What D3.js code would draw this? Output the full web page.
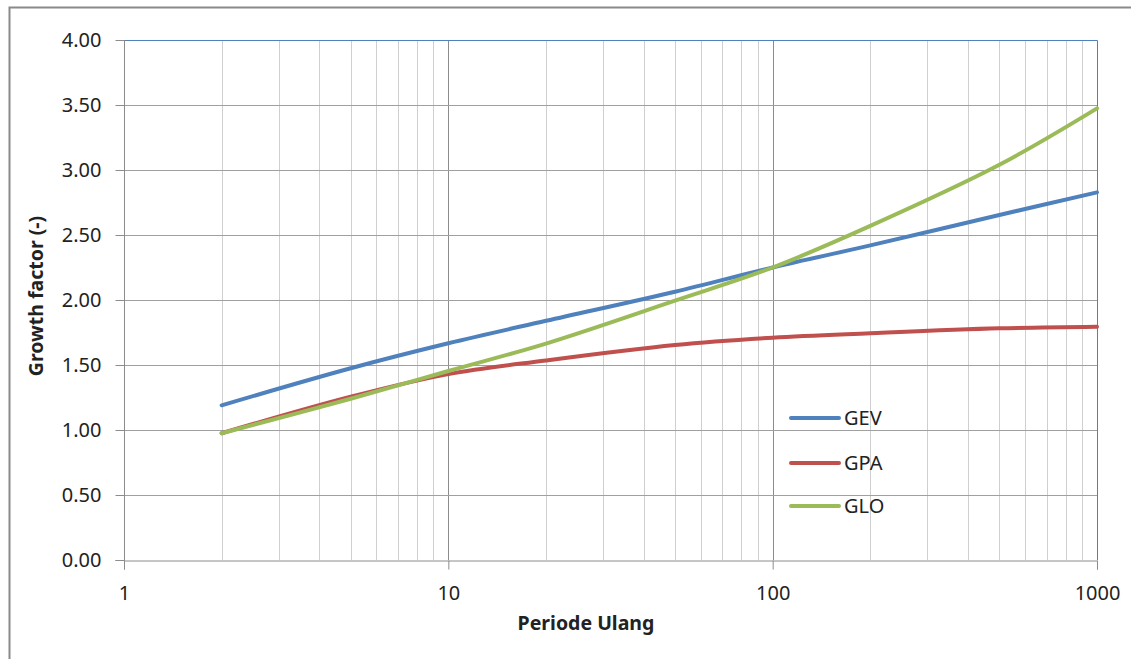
<!DOCTYPE html>
<html>
<head>
<meta charset="utf-8">
<script src="https://cdn.jsdelivr.net/npm/d3@7"></script>
<style>
  body { margin: 0; background: #fff; }
  text { font-family: "Noto Sans", "Open Sans", sans-serif; fill: #222; }
</style>
</head>
<body>
<svg id="chart" width="1131" height="659"></svg>
<script>
// return periods (years)
const periods = [2, 5, 10, 20, 50, 100, 200, 500, 1000];
// growth factors
const gev = [1.19, 1.475, 1.667, 1.84, 2.064, 2.25, 2.42, 2.654, 2.828];
const gpa = [0.975, 1.256, 1.43, 1.535, 1.654, 1.71, 1.744, 1.782, 1.795];
const glo = [0.975, 1.24, 1.454, 1.665, 1.995, 2.25, 2.57, 3.04, 3.474];

const seriesNames = ["GEV", "GPA", "GLO"];
const seriesColors = ["#4F81BD", "#C0504D", "#9BBB59"];
const yTicks = [0, 0.5, 1, 1.5, 2, 2.5, 3, 3.5, 4];
const xMajor = [1, 10, 100, 1000];

const svg = d3.select("#chart");

// outer chart frame
svg.append("rect")
    .attr("x", 9.5).attr("y", 7.5)
    .attr("width", 1200).attr("height", 700)
    .attr("fill", "none")
    .attr("stroke", "#8a8a8a")
    .attr("stroke-width", 2);

const c_left = 124, c_right = 1097, c_top = 40, c_bottom = 560;

const x = d3.scaleLog().domain([1, 1000]).range([c_left, c_right]);
const y = d3.scaleLinear().domain([0, 4]).range([c_bottom, c_top]);

// minor vertical grid
var minor = [];
for (let d = 1; d < 1000; d *= 10) {
    for (let k = 2; k <= 9; k++) minor.push(d * k);
}
svg.append("g").selectAll("line")
    .data(minor).enter().append("line")
    .attr("x1", d => Math.round(x(d)) + 0.5).attr("x2", d => Math.round(x(d)) + 0.5)
    .attr("y1", c_top).attr("y2", c_bottom)
    .attr("stroke", "#cfcfcf").attr("stroke-width", 1);

// major vertical grid
svg.append("g").selectAll("line")
    .data(xMajor.slice(1, 3)).enter().append("line")
    .attr("x1", d => Math.round(x(d)) + 0.5).attr("x2", d => Math.round(x(d)) + 0.5)
    .attr("y1", c_top).attr("y2", c_bottom)
    .attr("stroke", "#8c8c8c").attr("stroke-width", 1);

// horizontal grid
svg.append("g").selectAll("line")
    .data(yTicks.slice(1)).enter().append("line")
    .attr("x1", c_left).attr("x2", c_right)
    .attr("y1", d => Math.round(y(d)) + 0.5).attr("y2", d => Math.round(y(d)) + 0.5)
    .attr("stroke", "#a0a0a0").attr("stroke-width", 1);

// plot area border (blue, top and right)
svg.append("path")
    .attr("d", "M" + c_left + "," + (c_top + 0.5) + "H" + (c_right + 0.5) + "V" + c_bottom)
    .attr("fill", "none")
    .attr("stroke", "#4F81BD")
    .attr("stroke-width", 1);

// axes
const yAxis = d3.axisLeft(y).tickValues(yTicks).tickFormat(d3.format(".2f")).tickSize(9).tickPadding(14);
const gy = svg.append("g").attr("transform", "translate(" + (c_left + 0.5) + ",0)").call(yAxis);
const xAxis = d3.axisBottom(x).tickValues(xMajor).tickFormat(d3.format("d")).tickSize(9).tickPadding(16);
const gx = svg.append("g").attr("transform", "translate(0," + (c_bottom + 0.5) + ")").call(xAxis);

[gy, gx].forEach(g => {
    g.select(".domain").attr("stroke", "#8c8c8c");
    g.selectAll(".tick line").attr("stroke", "#8c8c8c");
    g.selectAll(".tick text")
        .style("font-family", "'Noto Sans', sans-serif")
        .style("font-size", "20px")
        .attr("fill", "#222");
});
gy.select(".domain").attr("d", "M-9," + (c_bottom + 0.5) + "H0V" + c_top);

// series lines
const allSeries = [gev, gpa, glo];
const line = d3.line()
    .x((d, i) => x(periods[i]))
    .y(d => y(d))
    .curve(d3.curveCatmullRom.alpha(0.5));

allSeries.forEach((s, i) => {
    svg.append("path")
        .datum(s)
        .attr("d", line)
        .attr("fill", "none")
        .attr("stroke", seriesColors[i])
        .attr("stroke-width", 4)
        .attr("stroke-linecap", "round");
});

// legend
const legendY = [418, 463, 506];
seriesNames.forEach((name, i) => {
    svg.append("line")
        .attr("x1", 791).attr("x2", 839)
        .attr("y1", legendY[i]).attr("y2", legendY[i])
        .attr("stroke", seriesColors[i])
        .attr("stroke-width", 4)
        .attr("stroke-linecap", "round");
    svg.append("text")
        .attr("x", 844).attr("y", legendY[i] + 7)
        .style("font-size", "20px")
        .text(name);
});

// axis titles
svg.append("text")
    .attr("transform", "translate(43,296) rotate(-90)")
    .attr("text-anchor", "middle")
    .style("font-size", "19.5px")
    .style("font-weight", "bold")
    .attr("fill", "#000")
    .text("Growth factor (-)");

svg.append("text")
    .attr("x", 586).attr("y", 630)
    .attr("text-anchor", "middle")
    .style("font-size", "19.5px")
    .style("font-weight", "bold")
    .attr("fill", "#000")
    .text("Periode Ulang");
</script>
</body>
</html>
